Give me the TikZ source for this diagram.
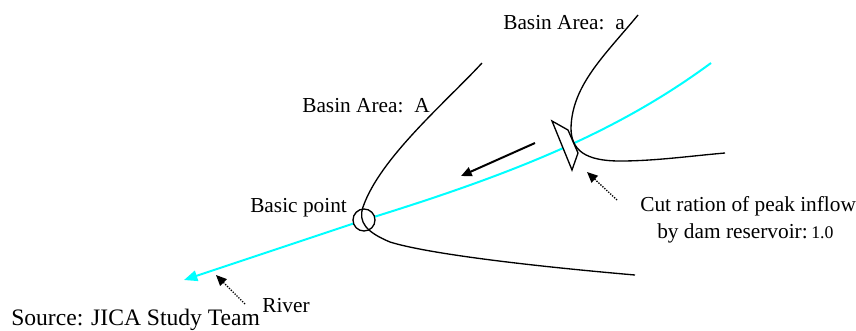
\documentclass[tikz,border=0pt]{standalone}
\usepackage{fontspec}
\setmainfont{Liberation Serif}
\usetikzlibrary{arrows.meta}
\definecolor{rivercol}{RGB}{0,255,255}
\tikzset{
  lbl/.style={font=\fontsize{16pt}{18pt}\selectfont, inner sep=0pt, anchor=base west},
  srclbl/.style={font=\fontsize{17.7pt}{20pt}\selectfont, inner sep=0pt, anchor=base west},
  small/.style={font=\fontsize{13.3pt}{15pt}\selectfont, inner sep=0pt, anchor=base west},
  ridge/.style={draw=black, line width=1pt},
  riverline/.style={draw=rivercol, line width=1.5pt},
  damshape/.style={draw=black, fill=white, line width=1pt},
  ptr/.style={draw=black, densely dotted, line width=1pt, -{Triangle[length=8pt,width=7pt]}},
  flow/.style={draw=black, line width=1.5pt, -{Triangle[length=8pt,width=7pt]}}
}
\begin{document}
\begin{tikzpicture}[x=0.75pt,y=-0.75pt]
\useasboundingbox (0,0) rectangle (856,330);
\coordinate (rs) at (711,63);
\coordinate (re) at (184,280);
\coordinate (dt) at (552,121);
\coordinate (dr) at (568,130);
\coordinate (dq) at (578,153);
\coordinate (db) at (572,170);
\coordinate (aTop) at (482,63);
\coordinate (aEnd) at (635,275);
\coordinate (bTop) at (638,15);
\coordinate (bEnd) at (725,153);
\coordinate (f1) at (535,143);
\coordinate (f2) at (461,176);
\coordinate (p1a) at (617,200);
\coordinate (p1b) at (587,172);
\coordinate (p2a) at (245,304);
\coordinate (p2b) at (216,275);
% river
\draw[riverline, -{Triangle[length=10pt,width=8pt]}] (rs) .. controls (620,130) and (520,172) .. (364,220) -- (re);
% dam
\draw[damshape] (dt) -- (dr) -- (dq) -- (db) -- cycle;
% basic point
\node[draw=black, fill=white, circle, line width=1pt, minimum size=16.5pt, inner sep=0pt] (bp) at (364,220) {};
% basin curves
\draw[ridge] (aTop) .. controls (445,103) and (380,158) .. (363,207) .. controls (358,222) and (366,232) .. (390,242) .. controls (425,253) and (520,265) .. (aEnd);
\draw[ridge] (bTop) .. controls (605,55) and (572,85) .. (571,128) .. controls (571,150) and (585,161) .. (620,161) .. controls (655,161) and (690,156) .. (bEnd);
% arrows
\draw[flow] (f1) -- (f2);
\draw[ptr] (p1a) -- (p1b);
\draw[ptr] (p2a) -- (p2b);
% labels
\node[lbl] (l1) at (503,29) {Basin Area:\ \ a};
\node[lbl] (l2) at (302,112) {Basin Area:\ \ A};
\node[lbl] (l3) at (250,212) {Basic point};
\node[lbl] (l4) at (640,211) {Cut ration of peak inflow};
\node[lbl] (l5) at (657,238) {by dam reservoir:};
\node[small] (l6) at (811,238) {1.0};
\node[lbl] (l7) at (262,312) {River};
\node[srclbl] (l8) at (11,325.5) {Source: JICA Study Team};
\end{tikzpicture}
\end{document}
